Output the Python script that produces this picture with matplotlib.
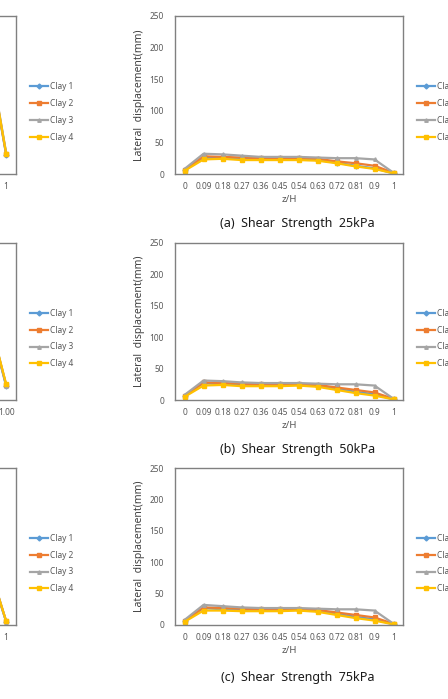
import matplotlib
matplotlib.use('Agg')
from matplotlib import pyplot as plt

plt.rcParams['font.family'] = ['Noto Sans', 'DejaVu Sans']

# categories (z/H)
zh = ['0', '0.09', '0.18', '0.27', '0.36', '0.45', '0.54', '0.63', '0.72', '0.81', '0.9', '1']
zh_b_left = ['0.00', '0.09', '0.18', '0.27', '0.36', '0.45', '0.54', '0.63', '0.72', '0.81', '0.90', '1.00']
clays = ['Clay 1', 'Clay 2', 'Clay 3', 'Clay 4']
captions = ['(a)  Shear  Strength  25kPa', '(b)  Shear  Strength  50kPa', '(c)  Shear  Strength  75kPa']

# right column: lateral displacement (mm)
clay1_a = [7, 26, 25, 24, 24, 24, 24, 22, 18, 13, 9, 1]
clay2_a = [6, 28, 27, 26, 25, 25, 25, 24, 20, 17, 13, 2]
clay3_a = [8, 32, 31, 29, 27, 27, 27, 26, 25, 25, 23, 2]
clay4_a = [5, 23, 24, 22, 22, 22, 22, 21, 17, 12, 8, 1]

clay1_b = [7, 27, 25, 24, 24, 24, 24, 23, 18, 13, 9, 1]
clay2_b = [6, 28, 27, 26, 25, 25, 25, 24, 20, 16, 12, 2]
clay3_b = [8, 31, 30, 28, 27, 27, 27, 26, 25, 25, 23, 2]
clay4_b = [5, 23, 24, 22, 22, 22, 23, 21, 16, 11, 7, 1]

clay1_c = [7, 27, 25, 24, 24, 24, 24, 23, 18, 13, 9, 1]
clay2_c = [6, 28, 27, 26, 25, 25, 25, 24, 20, 16, 12, 2]
clay3_c = [8, 32, 30, 28, 27, 27, 27, 26, 25, 25, 23, 2]
clay4_c = [5, 23, 23, 22, 22, 22, 23, 21, 16, 11, 7, 1]

# left column (mostly cut off by the crop)
left1_a = [10, 60, 100, 130, 155, 175, 190, 198, 204, 208, 200, 30]
left2_a = [10, 62, 102, 132, 157, 177, 192, 200, 206, 210, 203, 31]
left3_a = [12, 66, 106, 136, 160, 180, 195, 203, 209, 212, 207, 33]
left4_a = [10, 58, 98, 128, 153, 173, 188, 196, 203, 207, 205, 32]

left1_b = [8, 45, 75, 98, 115, 128, 137, 142, 144, 143, 138, 22]
left2_b = [8, 46, 76, 99, 116, 129, 138, 143, 145, 144, 140, 24]
left3_b = [9, 49, 79, 102, 119, 132, 141, 146, 148, 147, 144, 23]
left4_b = [8, 44, 74, 97, 114, 127, 136, 141, 144, 144, 142, 25]

left1_c = [7, 35, 58, 75, 88, 97, 103, 106, 107, 106, 100, 5]
left2_c = [7, 36, 59, 76, 89, 98, 104, 107, 108, 107, 102, 6]
left3_c = [8, 38, 61, 78, 91, 100, 106, 109, 110, 109, 106, 5]
left4_c = [7, 34, 57, 74, 87, 96, 102, 105, 107, 106, 103, 6]

right_rows = [[clay1_a, clay2_a, clay3_a, clay4_a],
              [clay1_b, clay2_b, clay3_b, clay4_b],
              [clay1_c, clay2_c, clay3_c, clay4_c]]
left_rows = [[left1_a, left2_a, left3_a, left4_a],
             [left1_b, left2_b, left3_b, left4_b],
             [left1_c, left2_c, left3_c, left4_c]]
left_ticks = [zh, zh_b_left, zh]

colors = ['#5B9BD5', '#ED7D31', '#A5A5A5', '#FFC000']
markers = ['D', 's', '^', 's']
msizes = [2.5, 3.5, 2.5, 3.5]

W, H = 448, 699
fig = plt.figure(figsize=(W / 100, H / 100), dpi=100)

rows_px = [(15.7, 174), (243, 400), (468, 625)]
caption_y = [224, 450, 677]


def draw(ax, series, ticks, legend_y, cropped=False):
    x = range(len(ticks))
    for s, lab, c, m, ms in zip(series, clays, colors, markers, msizes):
        ax.plot(x, s, color=c, lw=1.6, marker=m, ms=ms, mec=c, mfc=c, label=lab)
    ax.set_xlim(-0.5, len(ticks) - 0.5)
    ax.set_ylim(0, 250)
    ax.set_yticks([0, 50, 100, 150, 200, 250])
    ax.set_xticks(list(x))
    ax.tick_params(length=0, labelsize=6, labelcolor='#595959')
    ax.tick_params(axis='y', pad=8)
    ax.tick_params(axis='x', pad=6)
    for sp in ax.spines.values():
        sp.set_color('#808080')
        sp.set_linewidth(1.0)
    if cropped:
        # only the right edge of this panel falls inside the picture
        ax.set_xticklabels([''] * (len(ticks) - 1) + [ticks[-1]])
        ax.set_yticklabels([])
    else:
        ax.set_xticklabels(ticks)
        ax.set_xlabel('z/H', fontsize=7, color='#595959')
        ax.xaxis.set_label_coords(0.5, -0.135)
        ax.set_ylabel('Lateral  displacement(mm)', fontsize=7.5, fontweight='bold', color='#404040')
        ax.yaxis.set_label_coords(-0.13, 0.5)
    ax.legend(loc='center left', bbox_to_anchor=(1.061, legend_y), frameon=False,
              fontsize=6, labelcolor='#595959', handlelength=2.2, handletextpad=0.25,
              labelspacing=0.95, borderpad=0, borderaxespad=0)


for i, (top, bot) in enumerate(rows_px):
    b = 1 - bot / H
    h = (bot - top) / H
    ly = 0.5 - (112 - 95) / (bot - top)
    axl = fig.add_axes([(15.7 - 228) / W, b, 228 / W, h])
    draw(axl, left_rows[i], left_ticks[i], ly, cropped=True)
    axr = fig.add_axes([175 / W, b, 228 / W, h])
    draw(axr, right_rows[i], zh, ly)
    fig.text(297.5 / W, 1 - caption_y[i] / H, captions[i], ha='center', va='center',
             fontsize=9, color='#1a1a1a')

fig.savefig('out.png', dpi=100)
